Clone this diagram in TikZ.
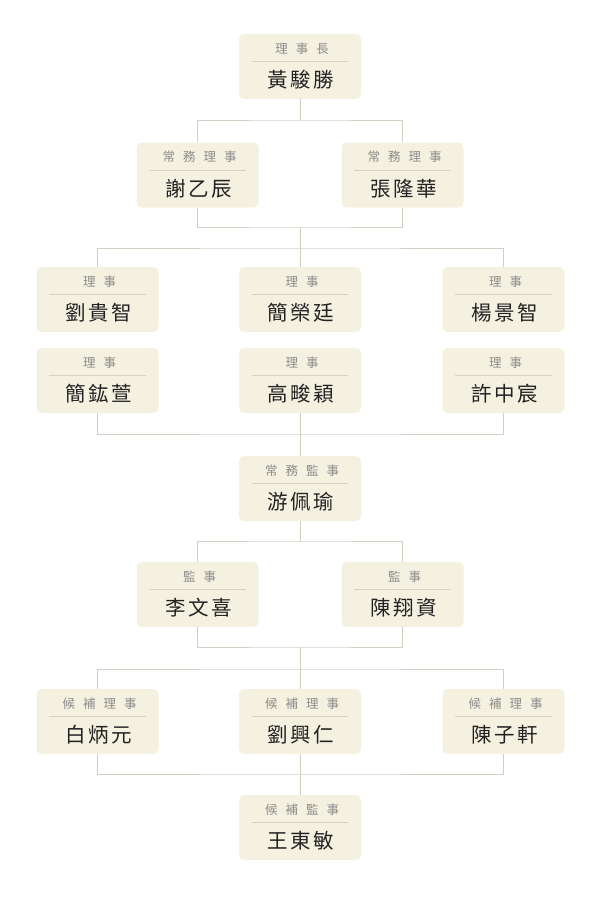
\documentclass[tikz,border=0pt]{standalone}
\usepackage{fontspec}
\usepackage{tikz}
\usepackage{xcolor}
\usetikzlibrary{positioning}
\newfontfamily\rankfont[LetterSpace=64]{Noto Sans CJK TC}
\newfontfamily\personfont[LetterSpace=12]{Noto Sans CJK TC}
\definecolor{cardfill}{HTML}{F4F1E0}
\definecolor{linkgray}{HTML}{D3CFC2}
\definecolor{sepline}{HTML}{D9D3BC}
\definecolor{ranktext}{HTML}{8C8C8C}
\definecolor{persontext}{HTML}{222222}

% one card: id, x, y (centre), title, person
\newcommand{\orgcard}[5]{%
  \node[card] (#1) at (#2,#3) {};
  \node[rank] (#1-t) at ([yshift=-14.5pt]#1.north) {#4};
  \draw[sep] ([xshift=13pt,yshift=-28pt]#1.north west) -- ([xshift=-13pt,yshift=-28pt]#1.north east);
  \node[person] (#1-n) at ([yshift=-46pt]#1.north) {#5};
}

\begin{document}
\begin{tikzpicture}[x=1pt, y=-1pt,
    card/.style={fill=cardfill, rounded corners=5pt, minimum width=122pt, minimum height=65pt, inner sep=0pt},
    rank/.style={font=\rankfont\fontsize{12.5}{14}\selectfont, text=ranktext, inner sep=0pt, xshift=2pt},
    person/.style={font=\personfont\fontsize{20.5}{24}\selectfont, text=persontext, inner sep=0pt, xshift=1.2pt},
    sep/.style={draw=sepline, line width=0.8pt},
    link/.style={draw=linkgray, line width=1pt}]
            \useasboundingbox (0,0) rectangle (600,900);

            \orgcard{chair}{300}{66.5}{理事長}{黃駿勝}
            \orgcard{exec_a}{197.5}{175}{常務理事}{謝乙辰}
            \orgcard{exec_b}{402.5}{175}{常務理事}{張隆華}
            \orgcard{dir_a}{97.5}{299.5}{理事}{劉貴智}
            \orgcard{dir_b}{300}{299.5}{理事}{簡榮廷}
            \orgcard{dir_c}{503.5}{299.5}{理事}{楊景智}
            \orgcard{dir_d}{97.5}{380.5}{理事}{簡鈜萱}
            \orgcard{dir_e}{300}{380.5}{理事}{高畯穎}
            \orgcard{dir_f}{503.5}{380.5}{理事}{許中宸}
            \orgcard{sup_chief}{300}{488.5}{常務監事}{游佩瑜}
            \orgcard{sup_a}{197.5}{594.5}{監事}{李文喜}
            \orgcard{sup_b}{402.5}{594.5}{監事}{陳翔資}
            \orgcard{alt_a}{97.5}{721.5}{候補理事}{白炳元}
            \orgcard{alt_b}{300}{721.5}{候補理事}{劉興仁}
            \orgcard{alt_c}{503.5}{721.5}{候補理事}{陳子軒}
            \orgcard{alt_sup}{300}{827.5}{候補監事}{王東敏}

            % junctions
            \coordinate (j1) at (300,120);
            \coordinate (j2) at (300,227);
            \coordinate (j3) at (300,248);
            \coordinate (j4) at (300,434);
            \coordinate (j5) at (300,541);
            \coordinate (j6) at (300,647);
            \coordinate (j7) at (300,669);
            \coordinate (j8) at (300,774);

            \draw[link] (chair) -- (j1);
            \draw[link] (exec_a.north) |- (j1) -| (exec_b.north);
            \draw[link] (exec_a.south) |- (j2) -| (exec_b.south);
            \draw[link] (j2) -- (j3);
            \draw[link] (dir_a.north) |- (j3) -| (dir_c.north);
            \draw[link] (j3) -- (dir_b);
            \draw[link] (dir_d.south) |- (j4) -| (dir_f.south);
            \draw[link] (dir_e) -- (sup_chief);
            \draw[link] (sup_chief) -- (j5);
            \draw[link] (sup_a.north) |- (j5) -| (sup_b.north);
            \draw[link] (sup_a.south) |- (j6) -| (sup_b.south);
            \draw[link] (j6) -- (j7);
            \draw[link] (alt_a.north) |- (j7) -| (alt_c.north);
            \draw[link] (j7) -- (alt_b);
            \draw[link] (alt_a.south) |- (j8) -| (alt_c.south);
            \draw[link] (alt_b) -- (alt_sup);
        \end{tikzpicture}
\end{document}
